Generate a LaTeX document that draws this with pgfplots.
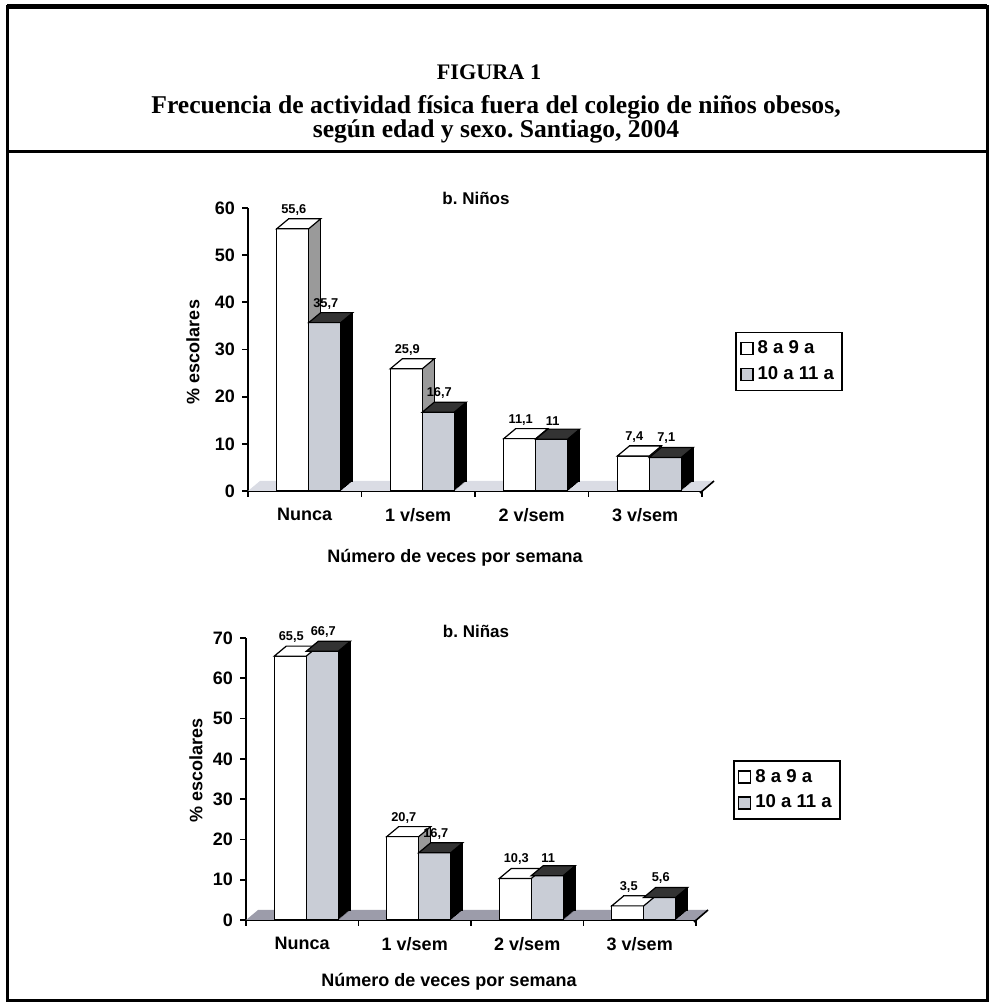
\documentclass[border=0pt]{standalone}
\usepackage{pgfplots}
\pgfplotsset{compat=1.18}
\usepackage{pgfplotstable}
\usepackage{fontspec}
\setmainfont{Liberation Serif}
\setsansfont{Liberation Sans}
\frenchspacing

\definecolor{barfront}{HTML}{C9CDD6}
\definecolor{bartop}{HTML}{333333}
\definecolor{whiteside}{HTML}{9A9A9A}
\definecolor{floorA}{HTML}{DADCE4}
\definecolor{floorB}{HTML}{9C9CAA}

\pgfdeclareplotmark{topface}{%
 \pgfpathmoveto{\pgfqpoint{-8pt}{0pt}}%
 \pgfpathlineto{\pgfqpoint{8pt}{0pt}}%
 \pgfpathlineto{\pgfqpoint{14pt}{5pt}}%
 \pgfpathlineto{\pgfqpoint{-2pt}{5pt}}%
 \pgfpathclose
 \pgfusepathqfillstroke}

\pgfplotstableread{
x a b
0 55.6 35.7
1 25.9 16.7
2 11.1 11
3 7.4 7.1
}\ninos

\pgfplotstableread{
x a b
0 65.5 66.7
1 20.7 16.7
2 10.3 11
3 3.5 5.6
}\ninas

\pgfplotsset{/pgf/number format/assume math mode=true,
  /pgf/number format/.cd, use comma, fixed, precision=1}

% #1 table, #2 column, #3 bar shift, #4 front, #5 top, #6 side
\newcommand{\threedbars}[6]{%
  \addplot[forget plot, ybar, bar width=16pt, bar shift=#3pt, fill=#6, draw=black, line width=0.6pt, xshift=6pt, yshift=5pt] table[x=x,y=#2]{#1};
  \pgfplotsinvokeforeach{1,...,11}{%
    \addplot[forget plot, ybar, bar width=16pt, bar shift=#3pt, fill=#6, draw=none, xshift=##1*0.5pt, yshift=##1*5pt/12] table[x=x,y=#2]{#1};
  }
  \addplot[forget plot, ybar, bar width=16pt, bar shift=#3pt, fill=#4, draw=black, line width=0.6pt,
    nodes near coords, point meta=y,
    every node near coord/.append style={font=\sffamily\bfseries\fontsize{6.4}{7}\selectfont, xshift=#3pt+0.5pt, yshift=5.5pt, inner sep=1pt, anchor=south, black}] table[x=x,y=#2]{#1};
  \addplot[forget plot, only marks, mark=topface, mark options={fill=#5, draw=black, line width=0.6pt}, xshift=#3pt] table[x=x,y=#2]{#1};
}

\pgfplotsset{
  chart3d/.style={
    scale only axis, anchor=south west,
    xmin=-0.5, xmax=3.5, ymin=0,
    xtick={-0.5,0.5,1.5,2.5,3.5}, x tick label as interval,
    xticklabels={Nunca,1 v/sem,2 v/sem,3 v/sem},
    axis x line*=bottom, axis y line*=left,
    tick align=outside, major tick length=3pt,
    axis line style={line width=0.9pt, black},
    tick style={line width=0.9pt, black},
    ticklabel style={font=\sffamily\bfseries\fontsize{9}{10}\selectfont},
    x tick label style={yshift=-2pt},
    clip=false,
    legend cell align=left,
    legend style={anchor=west, draw=black, line width=0.8pt,
      font=\sffamily\bfseries\fontsize{9.3}{10}\selectfont, inner sep=2pt, row sep=1pt},
  }
}

\begin{document}
\begin{tikzpicture}
\useasboundingbox (0,0) rectangle (495.5pt,503.5pt);
% frame
\draw[line width=1.5pt] (3.5pt,3pt) rectangle (493.5pt,500pt);
\draw[line width=2.5pt] (3.5pt,500pt) -- (493.5pt,500pt);
\draw[line width=1.5pt] (3.5pt,427.5pt) -- (493.5pt,427.5pt);
% header
\node[font=\bfseries\fontsize{11.1}{12}\selectfont] at (244.5pt,467.5pt) {FIGURA 1};
\node[font=\bfseries\fontsize{12.8}{14}\selectfont] at (248pt,450pt) {Frecuencia de actividad física fuera del colegio de niños obesos,};
\node[font=\bfseries\fontsize{12.8}{14}\selectfont] at (248pt,438pt) {según edad y sexo. Santiago, 2004};

% ===== top chart =====
\begin{axis}[chart3d, at={(124pt,258pt)}, width=227pt, height=141.5pt,
  ymax=60, ytick={0,10,...,60},
  legend style={at={(1.073,0.458)}}]
  \fill[floorA] (axis cs:-0.5,0) -- (axis cs:3.5,0) -- ([shift={(6pt,5pt)}]axis cs:3.5,0) -- ([shift={(6pt,5pt)}]axis cs:-0.5,0) -- cycle;
  \draw[line width=0.8pt] ([shift={(-1pt,-1pt)}]axis cs:3.5,0) -- ([shift={(6pt,5pt)}]axis cs:3.5,0);
  \threedbars{\ninos}{a}{-6}{white}{white}{whiteside}
  \threedbars{\ninos}{b}{10}{barfront}{bartop}{black}
  \addlegendimage{legend image code/.code={\draw[fill=white,draw=black,line width=0.8pt] (0pt,-3pt) rectangle (6pt,3pt);}}
  \addlegendentry{8 a 9 a}
  \addlegendimage{legend image code/.code={\draw[fill=barfront,draw=black,line width=0.8pt] (0pt,-3pt) rectangle (6pt,3pt);}}
  \addlegendentry{10 a 11 a}
\end{axis}
\node[font=\sffamily\bfseries\fontsize{8.5}{10}\selectfont] at (238pt,404.5pt) {b. Niños};
\node[font=\sffamily\bfseries\fontsize{9}{10}\selectfont, rotate=90] at (96.5pt,327.5pt) {\% escolares};
\node[font=\sffamily\bfseries\fontsize{9}{10}\selectfont] at (227.5pt,224.5pt) {Número de veces por semana};

% ===== bottom chart =====
\begin{axis}[chart3d, at={(123pt,43.5pt)}, width=225pt, height=141pt,
  ymax=70, ytick={0,10,...,70},
  legend style={at={(1.082,0.461)}}]
  \fill[floorB] (axis cs:-0.5,0) -- (axis cs:3.5,0) -- ([shift={(6pt,5pt)}]axis cs:3.5,0) -- ([shift={(6pt,5pt)}]axis cs:-0.5,0) -- cycle;
  \draw[line width=0.8pt] ([shift={(-1pt,-1pt)}]axis cs:3.5,0) -- ([shift={(6pt,5pt)}]axis cs:3.5,0);
  \threedbars{\ninas}{a}{-6}{white}{white}{whiteside}
  \threedbars{\ninas}{b}{10}{barfront}{bartop}{black}
  \addlegendimage{legend image code/.code={\draw[fill=white,draw=black,line width=0.8pt] (0pt,-3pt) rectangle (6pt,3pt);}}
  \addlegendentry{8 a 9 a}
  \addlegendimage{legend image code/.code={\draw[fill=barfront,draw=black,line width=0.8pt] (0pt,-3pt) rectangle (6pt,3pt);}}
  \addlegendentry{10 a 11 a}
\end{axis}
\node[font=\sffamily\bfseries\fontsize{8.5}{10}\selectfont] at (238pt,188pt) {b. Niñas};
\node[font=\sffamily\bfseries\fontsize{9}{10}\selectfont, rotate=90] at (98pt,118.5pt) {\% escolares};
\node[font=\sffamily\bfseries\fontsize{9}{10}\selectfont] at (224.5pt,12.5pt) {Número de veces por semana};
\end{tikzpicture}
\end{document}
